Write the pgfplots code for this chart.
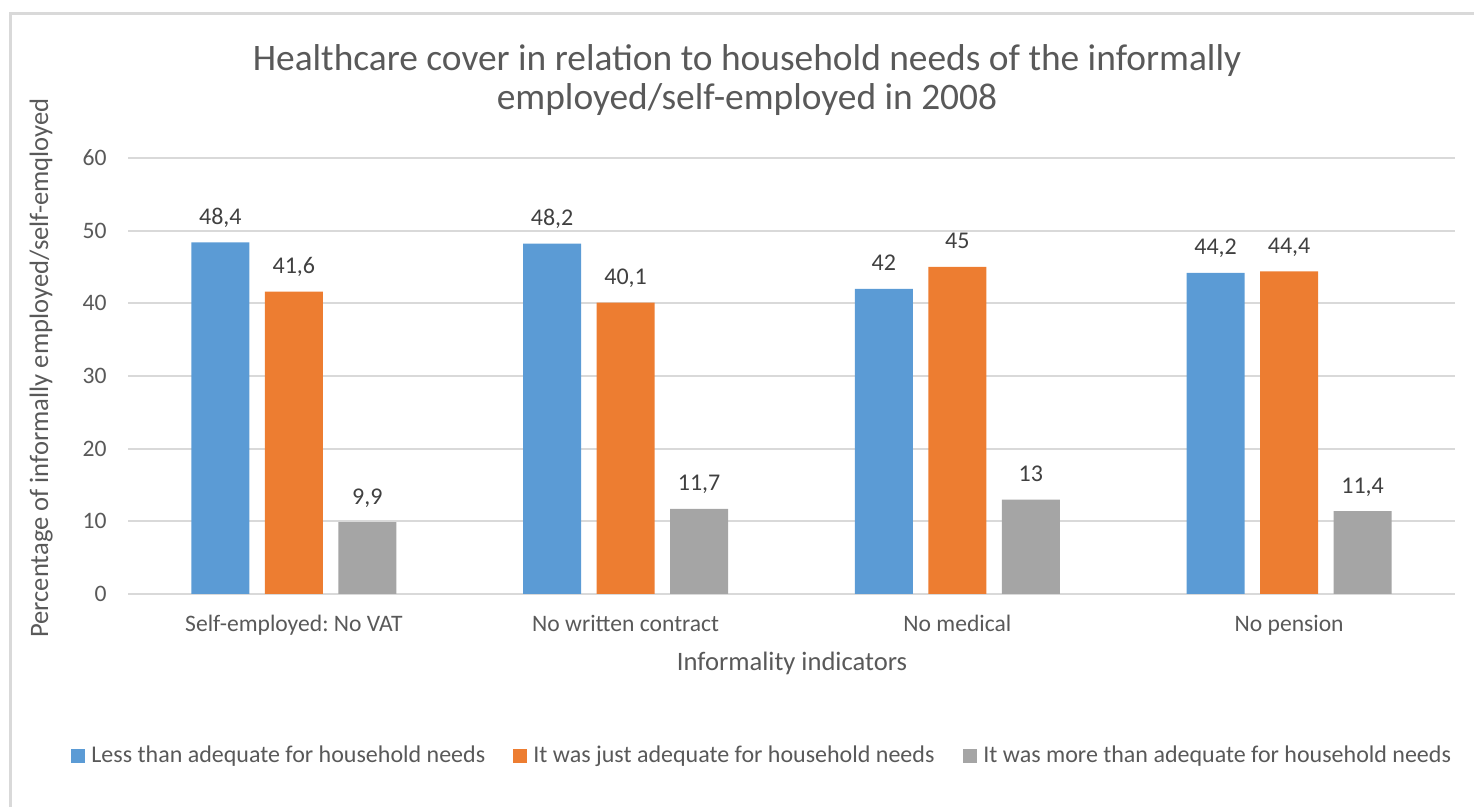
\documentclass[border=0pt]{standalone}
\usepackage{fontspec}
\setmainfont{Carlito}
\usepackage{pgfplots}
\pgfplotsset{compat=1.18}
\definecolor{cblue}{HTML}{5B9BD5}
\definecolor{corange}{HTML}{ED7D31}
\definecolor{cgray}{HTML}{A5A5A5}
\definecolor{tgray}{HTML}{595959}
\definecolor{lgray}{HTML}{404040}
\definecolor{gridc}{HTML}{D9D9D9}
\frenchspacing
\begin{document}
\begin{tikzpicture}
\path[use as bounding box] (0,0) rectangle (737pt,403.5pt);
\begin{axis}[
  at={(64pt,106.5pt)}, anchor=south west,
  scale only axis, width=663.5pt, height=218pt,
  ybar, bar width=29pt,
  xmin=-0.5, xmax=3.5, ymin=0, ymax=60,
  xtick={0,1,2,3},
  xticklabels={Self-employed: No VAT, No written contract, No medical, No pension},
  ytick={0,10,20,30,40,50,60},
  axis line style={draw=none},
  major tick length=0pt,
  xmajorgrids=false,
  ymajorgrids, major grid style={draw=gridc, line width=1pt},
  tick label style={font=\fontsize{11.8}{14}\selectfont, text=tgray},
  yticklabel style={anchor=east, inner sep=0pt, xshift=-10.5pt},
  xticklabel style={anchor=base, inner sep=0pt, yshift=-19pt},
  nodes near coords,
  every node near coord/.append style={font=\fontsize{12}{14}\selectfont, text=lgray, anchor=base, inner sep=0pt, yshift=9pt},
  /pgf/number format/use comma,
  /pgf/number format/assume math mode=true,
  clip=false,
]
\addplot[bar shift=-36.75pt, fill=cblue, draw=none] coordinates {(0,48.4) (1,48.2) (2,42) (3,44.2)};
\addplot[bar shift=0pt, fill=corange, draw=none] coordinates {(0,41.6) (1,40.1) (2,45) (3,44.4)};
\addplot[bar shift=36.75pt, fill=cgray, draw=none] coordinates {(0,9.9) (1,11.7) (2,13) (3,11.4)};
\end{axis}
\begin{scope}[x=0.5pt, y=-0.5pt, shift={(0,403.5pt)}]
  \draw[gridc, line width=1.5pt] (10,807) -- (10,14) -- (1474,14);
  \node[anchor=base, text=tgray, font=\fontsize{18.7}{22}\selectfont, inner sep=0pt] at (747,71) {Healthcare cover in relation to household needs of the informally};
  \node[anchor=base, text=tgray, font=\fontsize{18.7}{22}\selectfont, inner sep=0pt] at (747,110) {employed/self-employed in 2008};
  \node[anchor=base, text=tgray, font=\fontsize{13.3}{16}\selectfont, inner sep=0pt] at (792,671) {Informality indicators};
  \node[rotate=90, anchor=base, text=tgray, font=\fontsize{13.3}{16}\selectfont, inner sep=0pt] at (48,368) {Percentage of informally employed/self-emqloyed};
  \fill[cblue] (71,749) rectangle (85,763);
  \node[anchor=base west, text=tgray, font=\fontsize{12}{14}\selectfont, inner sep=0pt] at (91,762.5) {Less than adequate for household needs};
  \fill[corange] (513,749) rectangle (527,763);
  \node[anchor=base west, text=tgray, font=\fontsize{12}{14}\selectfont, inner sep=0pt] at (533,762.5) {It was just adequate for household needs};
  \fill[cgray] (963,749) rectangle (977,763);
  \node[anchor=base west, text=tgray, font=\fontsize{12}{14}\selectfont, inner sep=0pt] at (983,762.5) {It was more than adequate for household needs};
\end{scope}
\end{tikzpicture}
\end{document}
